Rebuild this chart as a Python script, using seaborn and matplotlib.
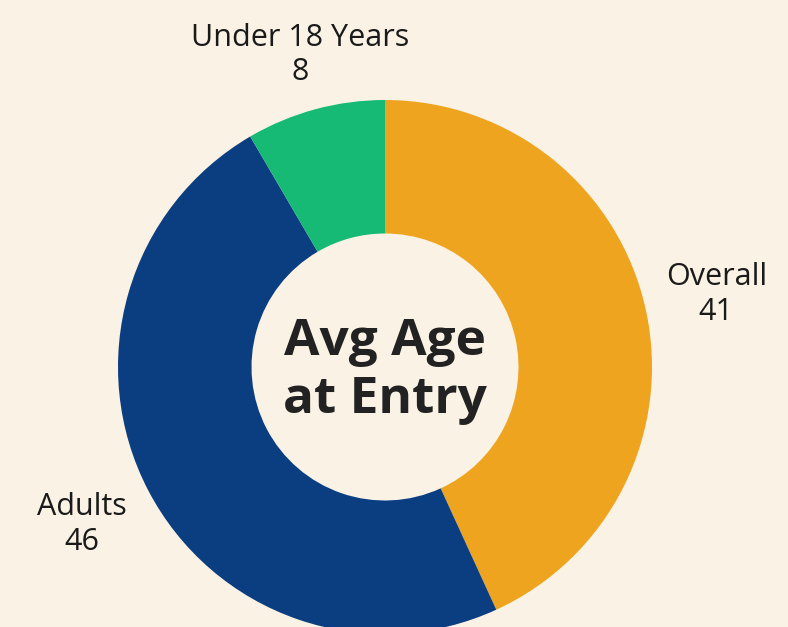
import matplotlib
matplotlib.use("Agg")
import matplotlib.pyplot as plt
import numpy as np
import seaborn as sns

# Data
groups = ["Overall", "Adults", "Under 18 Years"]
avg_age = [41, 46, 8]
colors = ["#EEA41E", "#0B3D81", "#17BA74"]
center_title = "Avg Age\nat Entry"

bg = "#FAF2E5"

sns.set_theme(style="white")
plt.rcParams["font.family"] = ["Open Sans", "DejaVu Sans"]

fig = plt.figure(figsize=(7.88, 6.27), dpi=100, facecolor=bg)
ax = fig.add_axes([0, 0, 1, 1])
ax.set_facecolor(bg)

# pixel-like data space so the ring sits where it does in the reference
cx, cy, r = 385, 627 - 367, 267
wedges, _ = ax.pie(
    avg_age,
    colors=colors,
    startangle=90,
    counterclock=False,
    center=(cx, cy),
    radius=r,
    wedgeprops=dict(width=r * 0.5, linewidth=0),
)

# labels outside each slice, at its middle angle
label_dist = [1.27, 1.28, 1.21]
for w, g, v, d in zip(wedges, groups, avg_age, label_dist):
    ang = np.deg2rad((w.theta1 + w.theta2) / 2)
    ax.text(cx + d * r * np.cos(ang), cy + d * r * np.sin(ang), f"{g}\n{v}",
            ha="center", va="center", fontsize=22, color="#1a1a1a",
            linespacing=1.2)

ax.text(cx, cy - 4, center_title, ha="center", va="center",
        fontsize=37, fontweight="bold", color="#222222", linespacing=1.2)

ax.set_xlim(0, 788)
ax.set_ylim(0, 627)
ax.set_aspect("equal")
ax.axis("off")

plt.savefig("out.png", dpi=100, facecolor=bg)
plt.close()
